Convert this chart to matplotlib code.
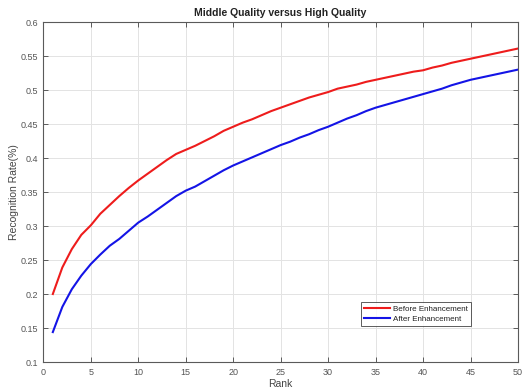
import matplotlib
matplotlib.use("Agg")
import matplotlib.pyplot as plt
import numpy as np

plt.rcParams['font.family'] = ['Liberation Sans', 'DejaVu Sans']

rank = list(range(1, 51))
before_enh = [0.200, 0.239, 0.266, 0.287, 0.301, 0.318, 0.331, 0.344, 0.356, 0.367,
              0.377, 0.387, 0.397, 0.406, 0.412, 0.418, 0.425, 0.432, 0.440, 0.446,
              0.452, 0.457, 0.463, 0.469, 0.474, 0.479, 0.484, 0.489, 0.493, 0.497,
              0.502, 0.505, 0.508, 0.512, 0.515, 0.518, 0.521, 0.524, 0.527, 0.529,
              0.533, 0.536, 0.540, 0.543, 0.546, 0.549, 0.552, 0.555, 0.558, 0.561]
after_enh = [0.144, 0.181, 0.207, 0.227, 0.244, 0.258, 0.271, 0.281, 0.293, 0.305,
             0.314, 0.324, 0.334, 0.344, 0.352, 0.358, 0.366, 0.374, 0.382, 0.389,
             0.395, 0.401, 0.407, 0.413, 0.419, 0.424, 0.430, 0.435, 0.441, 0.446,
             0.452, 0.458, 0.463, 0.469, 0.474, 0.478, 0.482, 0.486, 0.490, 0.494,
             0.498, 0.502, 0.507, 0.511, 0.515, 0.518, 0.521, 0.524, 0.527, 0.530]
x_ticks = list(range(0, 51, 5))
y_ticks = [0.1, 0.15, 0.2, 0.25, 0.3, 0.35, 0.4, 0.45, 0.5, 0.55, 0.6]
y_tick_labels = ['0.1', '0.15', '0.2', '0.25', '0.3', '0.35', '0.4', '0.45', '0.5', '0.55', '0.6']

fig = plt.figure(figsize=(5.24, 3.89), dpi=100)
ax = fig.add_axes([0.0827, 0.0694, 0.9058, 0.874])

ax.plot(rank, before_enh, color='#ee1c1c', lw=1.5, label='Before Enhancement')
ax.plot(rank, after_enh, color='#1414e6', lw=1.5, label='After Enhancement')

ax.set_xlim(0, 50)
ax.set_ylim(0.1, 0.6)
ax.set_xticks(x_ticks)
ax.set_yticks(y_ticks)
ax.set_yticklabels(y_tick_labels)
ax.grid(True, color='#e3e3e3', lw=0.7)
ax.set_axisbelow(True)

axis_col = '#5a5a5a'
for s in ax.spines.values():
    s.set_color(axis_col)
    s.set_linewidth(0.8)
ax.tick_params(direction='in', top=True, right=True, length=3.5, width=0.7,
               colors=axis_col, labelsize=6.5, labelcolor='#555555', pad=4)

ax.set_title('Middle Quality versus High Quality', fontsize=7.5, fontweight='bold',
             color='#222222', pad=4)
ax.set_xlabel('Rank', fontsize=7.5, color='#444444', labelpad=2)
ax.set_ylabel('Recognition Rate(%)', fontsize=7.5, color='#444444')
ax.yaxis.set_label_coords(-0.052, 0.5)

leg = ax.legend(loc='lower right', bbox_to_anchor=(0.91, 0.093), fontsize=5.8,
                frameon=True, fancybox=False, handlelength=3.2, handletextpad=0.4,
                borderpad=0.4, labelspacing=0.3)
leg.get_frame().set_edgecolor('#333333')
leg.get_frame().set_linewidth(0.7)
for t in leg.get_texts():
    t.set_color('#222222')

fig.savefig('out.png', dpi=100)
